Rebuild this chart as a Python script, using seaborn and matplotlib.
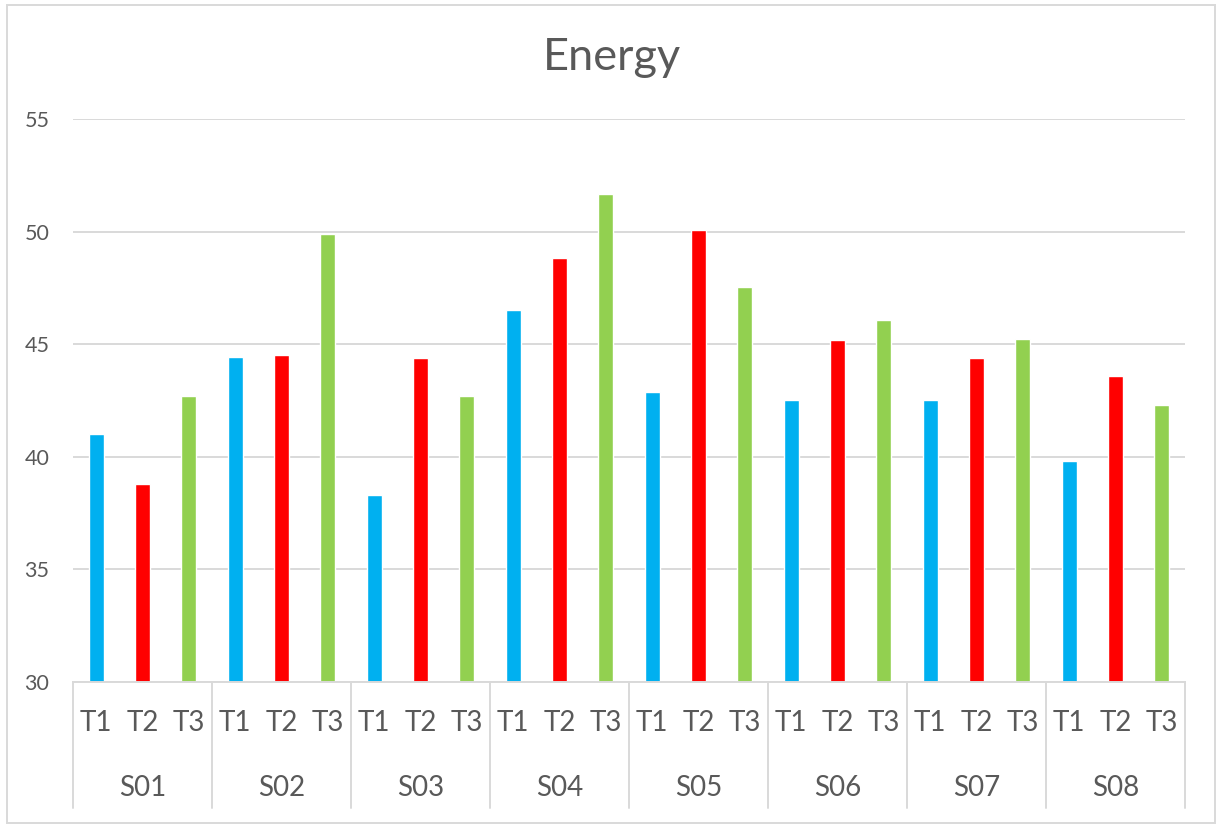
import pandas as pd
import seaborn as sns
import matplotlib.pyplot as plt
from matplotlib.patches import Rectangle

# data
groups = ['S01', 'S02', 'S03', 'S04', 'S05', 'S06', 'S07', 'S08']
trials = ['T1', 'T2', 'T3']
t1 = [41.0, 44.42, 38.3, 46.54, 42.86, 42.52, 42.52, 39.81]
t2 = [38.77, 44.51, 44.39, 48.83, 50.06, 45.2, 44.37, 43.6]
t3 = [42.71, 49.91, 42.7, 51.69, 47.55, 46.08, 45.21, 42.3]
colors = {'T1': '#00B0F0', 'T2': '#FF0000', 'T3': '#92D050'}

rows = []
for i, g in enumerate(groups):
    for t, vals in zip(trials, [t1, t2, t3]):
        rows.append({'Subject': g, 'Trial': t, 'Slot': g + ' ' + t, 'Energy': vals[i]})
df = pd.DataFrame(rows)

sns.set_style('white')
plt.rcParams['font.family'] = ['Lato', 'DejaVu Sans']
txt = '#595959'
grid = '#D9D9D9'

fig = plt.figure(figsize=(12.22, 8.30), dpi=100)
ax = fig.add_axes([73/1222, 148/830, 1112/1222, 563/830])
sns.barplot(data=df, x='Slot', y='Energy', hue='Trial', palette=colors,
            dodge=False, width=0.33, errorbar=None, legend=False,
            saturation=1, ax=ax)

ax.set_ylim(30, 55)
ax.set_yticks(range(30, 56, 5))
ax.set_xlim(-0.5, len(df) - 0.5)
ax.set_xticks(range(len(df)))
ax.set_xticklabels([''] * len(df))
ax.set_xlabel('')
ax.set_ylabel('')
ax.tick_params(axis='both', length=0)
ax.tick_params(axis='y', labelsize=15.5, labelcolor=txt, pad=17)
ax.yaxis.grid(True, color=grid, linewidth=1.4)
ax.set_axisbelow(True)
for s in ['top', 'right', 'left']:
    ax.spines[s].set_visible(False)
ax.spines['bottom'].set_color(grid)
ax.spines['bottom'].set_linewidth(1.4)

# two-level category axis
tr = ax.get_xaxis_transform()
for k, row in df.iterrows():
    ax.text(k, -0.0728, row['Trial'], transform=tr, ha='center', va='center',
            fontsize=20, color=txt)
for i, g in enumerate(groups):
    ax.text(i * 3 + 1, -0.188, g, transform=tr, ha='center', va='center',
            fontsize=20, color=txt)
for i in range(len(groups) + 1):
    ax.plot([i * 3 - 0.5] * 2, [0, -0.224], transform=tr, color=grid,
            linewidth=1.4, clip_on=False)

fig.text(612/1222, 1 - 58/830, 'Energy', ha='center', va='center',
         fontsize=32.5, color=txt)
fig.patches.append(Rectangle((7/1222, 7/830), 1208/1222, 818/830,
                             transform=fig.transFigure, fill=False,
                             edgecolor=grid, linewidth=1.4))

fig.savefig('out.png', dpi=100)
